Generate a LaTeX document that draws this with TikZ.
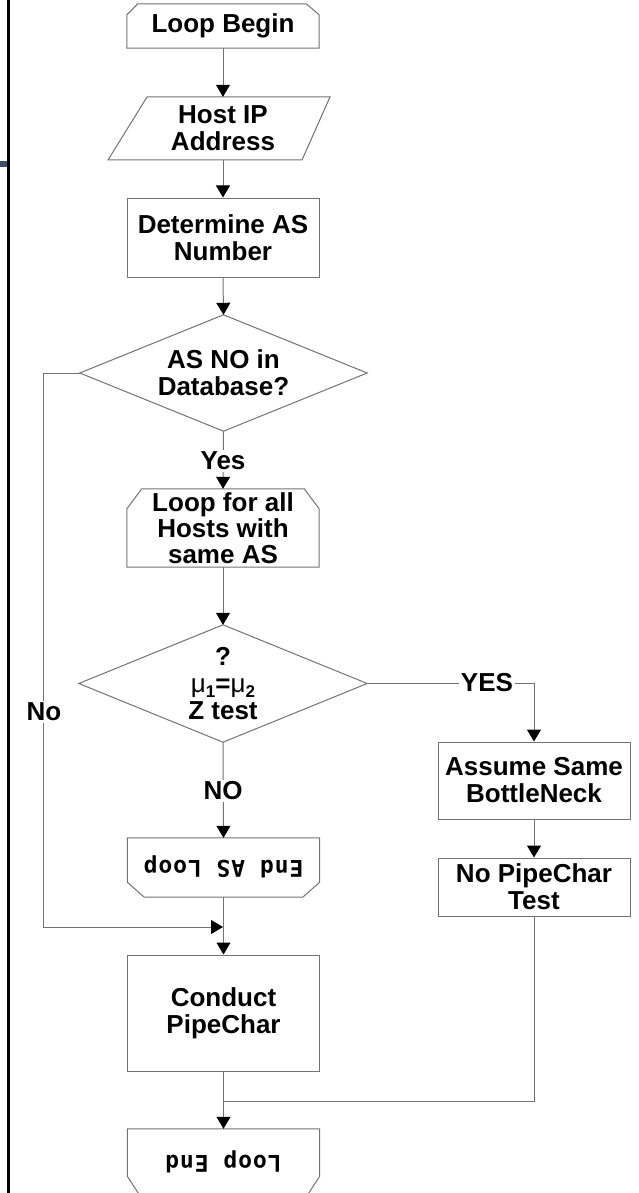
\documentclass[tikz,border=0pt]{standalone}
\usepackage{fontspec}
\setmainfont{Liberation Sans}
\newfontfamily\monof[LetterSpace=4]{DejaVu Sans Mono}
\usetikzlibrary{arrows.meta,calc}
\definecolor{linec}{gray}{0.45}
\definecolor{slate}{RGB}{60,80,110}
\begin{document}
\begin{tikzpicture}[x=1pt,y=-1pt,
  every node/.style={font=\bfseries\fontsize{26}{27}\selectfont, align=center, inner sep=0pt},
  outline/.style={draw=linec, line width=1pt},
  conn/.style={draw=linec, line width=1pt},
  arr/.style={conn, -{Triangle[width=14pt,length=12pt,color=black]}},
  lbl/.style={fill=white, inner sep=2pt},
  rev/.style={font=\monof\bfseries\fontsize{23}{24}\selectfont, rotate=180},
]
\useasboundingbox (0,0) rectangle (639,1193);
\fill[white] (0,0) rectangle (639,1193);
\fill[black] (7,0) rectangle (10,1193);
\fill[slate] (0,161) rectangle (7,167);

% Loop Begin
\node[minimum width=192pt, minimum height=44pt] (lb) at (223,26) {Loop Begin};
\draw[outline] (lb.south west) -- ($(lb.north west)+(0,11)$) -- ($(lb.north west)+(11,0)$)
  -- ($(lb.north east)+(-13,0)$) -- ($(lb.north east)+(0,11)$) -- (lb.south east) -- cycle;

% Host IP Address
\node[minimum width=192pt, minimum height=63pt] (host) at (223,128.5) {Host IP\\Address};
\draw[outline] ($(host.center)+(-76,-31.5)$) -- ($(host.center)+(107,-31.5)$)
  -- ($(host.center)+(79,31.5)$) -- ($(host.center)+(-115,31.5)$) -- cycle;

% Determine AS Number
\node[outline, minimum width=192pt, minimum height=79pt] (det) at (223,237.5) {Determine AS\\Number};

% Diamond 1
\node[minimum width=287pt, minimum height=116pt] (d1) at (223.5,373) {AS NO in\\Database?};
\draw[outline] (d1.north) -- (d1.east) -- (d1.south) -- (d1.west) -- cycle;

% Loop for all hosts
\node[minimum width=192pt, minimum height=78pt, font=\bfseries\fontsize{26}{26}\selectfont] (lfa) at (223,528) {Loop for all\\Hosts with\\same AS};
\draw[outline] (lfa.south west) -- ($(lfa.north west)+(0,20)$) -- ($(lfa.north west)+(15,0)$)
  -- ($(lfa.north east)+(-15,0)$) -- ($(lfa.north east)+(0,20)$) -- (lfa.south east) -- cycle;

% Diamond 2
\node[minimum width=288pt, minimum height=117pt] (d2) at (223,683.5) {};
\draw[outline] (d2.north) -- (d2.east) -- (d2.south) -- (d2.west) -- cycle;
\node[anchor=base] (d2q) at (223,665) {?};
\node[anchor=base] (d2m) at (223,692) {{\mdseries μ}\raisebox{-5pt}{\fontsize{17}{17}\selectfont 1}={\mdseries μ}\raisebox{-5pt}{\fontsize{17}{17}\selectfont 2}};
\node[anchor=base] (d2z) at (223,719) {Z test};

% Right branch
\node[outline, minimum width=192pt, minimum height=77pt] (asb) at (534,780.5) {Assume Same\\BottleNeck};
\node[outline, minimum width=192pt, minimum height=58pt] (npt) at (534,887) {No PipeChar\\Test};

% End AS Loop
\node[minimum width=192pt, minimum height=59pt] (eal) at (223.5,867.5) {};
\draw[outline] (eal.north west) -- (eal.north east) -- ($(eal.south east)+(0,-15)$)
  -- ($(eal.south east)+(-17,0)$) -- ($(eal.south west)+(17,0)$) -- ($(eal.south west)+(0,-15)$) -- cycle;
\node[rev] (ealt) at (223.5,867) {End AS Loop};

% Conduct PipeChar
\node[outline, minimum width=192pt, minimum height=116pt] (cpc) at (223.5,1013) {Conduct\\PipeChar};

% Loop End
\node[minimum width=192pt, minimum height=67pt] (le) at (223.5,1162.5) {};
\draw[outline] (le.north west) -- (le.north east) -- ($(le.south east)+(0,-20)$)
  -- ($(le.south east)+(-13,0)$) -- ($(le.south west)+(13,0)$) -- ($(le.south west)+(0,-20)$) -- cycle;
\node[rev] (let) at (223.5,1162) {Loop End};

% coordinates for connectors
\coordinate (nobend) at (43,927);
\coordinate (nojoin) at (223,927);
\coordinate (mjoin) at (223,1101);

% connectors
\draw[arr] (lb.south) -- (host.north);
\draw[arr] (host.south) -- (det.north);
\draw[arr] (det.south) -- (d1.north);
\draw[arr] (d1.south) -- (lfa.north);
\draw[arr] (lfa.south) -- (d2.north);
\draw[arr] (d2.east) -| (asb.north);
\draw[arr] (asb.south) -- (npt.north);
\draw[arr] (d2.south) -- (eal.north);
\draw[arr] (eal.south) -- (cpc.north);
\draw[arr] (d1.west) -| (nobend) -- (nojoin);
\draw[conn] (npt.south) |- (mjoin);
\draw[arr] (cpc.south) -- (le.north);

% labels
\node[lbl] (yes) at (223,461) {Yes};
\node[lbl] (yesr) at (487,683) {YES};
\node[lbl] (nod) at (223,791) {NO};
\node[lbl] (nol) at (44,712) {No};
\end{tikzpicture}
\end{document}
